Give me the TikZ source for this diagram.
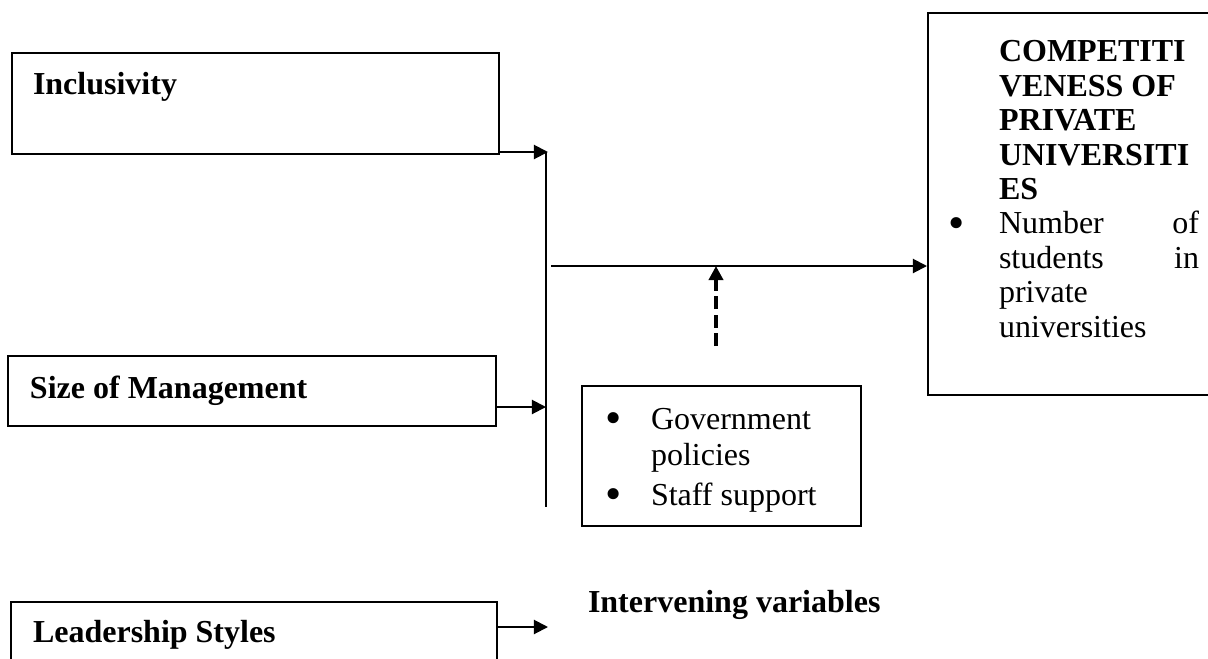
\documentclass[tikz,border=0pt]{standalone}
\usepackage{fontspec}
\setmainfont{Liberation Serif}
\usetikzlibrary{arrows.meta, positioning, fit}
\tikzstyle{box}=[draw,rectangle,inner sep=0pt]
\tikzstyle{every node}=[font=\fontsize{12}{12.9}\selectfont,inner sep=0pt]
\tikzstyle{lbl}=[font=\fontsize{12}{12.9}\selectfont\bfseries,anchor=base west]
\newcommand{\bigbul}{\raisebox{-1.6pt}{\scalebox{1.45}{\textbullet}}}
\newcommand{\bul}{\makebox[17.25pt][l]{\bigbul}}

\begin{document}
\begin{tikzpicture}[x=0.375pt,y=-0.375pt,line width=0.75pt,>={Triangle[length=5.3pt,width=5.3pt]}]
    \useasboundingbox (0,0) rectangle (1208,658);
    % independent variables
    \node[box, fit={(12,53) (499,154)}] (incl) {};
    \node[lbl] (incl-t) at (32,94) {Inclusivity};
    \node[box, fit={(8,356) (496,426)}] (size) {};
    \node[lbl] (size-t) at (29,398) {Size of Management};
    \node[box, fit={(11,602) (497,664)}] (lead) {};
    \node[lbl] (lead-t) at (32,642) {Leadership Styles};
    % dependent variable (base = last line)
    \node[box, fit={(928,13) (1214,395)}] (comp) {};
    \node[anchor=base west, align=left] (comp-t) at (998,337) {\textbf{COMPETITI}\\\textbf{VENESS OF}\\\textbf{PRIVATE}\\\textbf{UNIVERSITI}\\\textbf{ES}\\\llap{\makebox[19.1pt][l]{\bigbul}}\makebox[75pt]{Number\hfill of}\\\makebox[75pt]{students\hfill in}\\private\\universities};
    % intervening variables
    \node[box, fit={(582,386) (861,526)}] (interv) {};
    \node[anchor=base west, align=left, font=\fontsize{12}{13.5}\selectfont] (interv-t) at (604,505) {\bul Government\\\hspace*{17.25pt}policies\\[1.5pt]\bul Staff support};
    \node[lbl] (interv-l) at (587,612) {Intervening variables};
    % connectors
    \coordinate (vtop) at (546,152);
    \coordinate (vbot) at (546,507);
    \coordinate (m1) at (548,152);
    \coordinate (m2) at (546,407);
    \coordinate (m3) at (548,627);
    \coordinate (hstart) at (551,266);
    \coordinate (dstart) at (716,346);
    \draw[->] (m1 -| incl.east) -- (m1);
    \draw (vtop) -- (vbot);
    \draw[->] (m2 -| size.east) -- (m2);
    \draw[->] (m3 -| lead.east) -- (m3);
    \draw[->] (hstart) -- (hstart -| comp.west);
    \draw[->, line width=1.5pt, dash pattern=on 4.9pt off 2pt] (dstart) -- (dstart |- hstart);
\end{tikzpicture}
\end{document}
